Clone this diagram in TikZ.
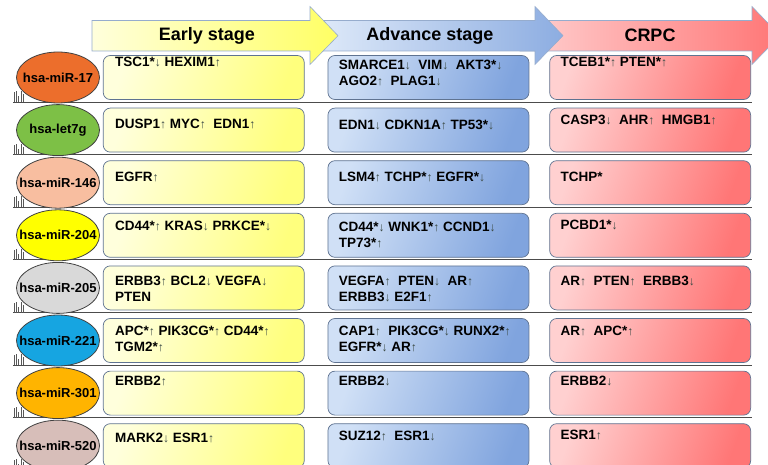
\documentclass[tikz,border=0pt]{standalone}
\usepackage{fontspec}
\setmainfont{Liberation Sans}
\usetikzlibrary{shapes.geometric,positioning}

\definecolor{yelLt}{RGB}{255,255,220}
\definecolor{yelDk}{RGB}{255,255,125}
\definecolor{bluLt}{RGB}{208,224,246}
\definecolor{bluDk}{RGB}{128,164,222}
\definecolor{redLt}{RGB}{255,208,208}
\definecolor{redDk}{RGB}{255,118,118}
\definecolor{boxLine}{RGB}{95,115,145}
\definecolor{arrLine}{RGB}{150,172,205}
\definecolor{arrcol}{RGB}{60,75,70}
\definecolor{mirOrange}{RGB}{236,110,44}
\definecolor{mirGreen}{RGB}{125,192,70}
\definecolor{mirPeach}{RGB}{248,190,160}
\definecolor{mirYellow}{RGB}{255,255,0}
\definecolor{mirGray}{RGB}{217,217,217}
\definecolor{mirBlue}{RGB}{22,165,225}
\definecolor{mirAmber}{RGB}{255,180,0}
\definecolor{mirRose}{RGB}{215,190,185}

\newcommand{\genup}{{\fontsize{12}{12}\selectfont\mdseries\textcolor{arrcol}{↑}}}
\newcommand{\gendn}{{\fontsize{12}{12}\selectfont\mdseries\textcolor{arrcol}{↓}}}
\newcommand{\mirname}[1]{\makebox[0pt]{#1}}

\tikzset{mir/.style={draw=black!75, line width=0.8pt, ellipse, minimum width=83pt, minimum height=51pt, inner sep=0pt, font=\fontsize{13}{13}\selectfont\bfseries}}
\tikzset{gbox/.style={draw=boxLine, line width=0.7pt, rounded corners=7pt, minimum width=201pt, minimum height=44pt, inner sep=0pt}}
\tikzstyle{ybox}=[gbox, top color=yelLt, bottom color=yelDk, shading angle=70]
\tikzstyle{bbox}=[gbox, top color=bluLt, bottom color=bluDk, shading angle=70]
\tikzstyle{rbox}=[gbox, top color=redLt, bottom color=redDk, shading angle=70]
\tikzstyle{gtxt}=[anchor=north west, inner sep=0pt, align=left, font=\fontsize{13.5}{16}\selectfont\bfseries]
\tikzstyle{hdr}=[inner sep=0pt, font=\fontsize{18}{18}\selectfont\bfseries]
\tikzstyle{sep}=[draw=black!70, line width=0.9pt]
\tikzstyle{tick}=[draw=black!65, line width=0.7pt]

\begin{document}
\begin{tikzpicture}[x=1pt, y=-1pt]
\clip (0,0) rectangle (768,465);
% stage arrows
\shade[left color=redLt, right color=redDk, draw=arrLine, line width=0.6pt]
  (520,20.5) -- (752,20.5) -- (752,6.5) -- (780,35.7) -- (752,64.5) -- (752,51) -- (520,51) -- cycle;
\shade[left color=bluLt!70!white, right color=bluDk!90!white, draw=arrLine, line width=0.6pt]
  (318,20.5) -- (535,20.5) -- (535,6.5) -- (563,35.7) -- (535,64.5) -- (535,51) -- (318,51) -- cycle;
\shade[left color=yelLt, right color=yelDk!80!yellow, draw=arrLine, line width=0.6pt]
  (92,20.5) -- (310,20.5) -- (310,6.5) -- (338,35.7) -- (310,64.5) -- (310,51) -- (92,51) -- cycle;
\node[hdr] (hEarly) at (207,35.7) {Early stage};
\node[hdr] (hAdv) at (430,35.7) {Advance stage};
\node[hdr] (hCrpc) at (650,35.7) {CRPC};

% row separators
\foreach \y in {102.1,154.7,207.3,259.9,312.5,365.1,417.7,470.3}{
  \draw[sep] (13,\y) -- (752,\y);
  \foreach \tx/\th in {14/10,16/11,18.5/6,21/11,23.5/8}
    \draw[tick] (\tx,\y) -- (\tx,\y-\th);
}

% row 1
\node[mir, fill=mirOrange] (m1) at (58,77.5) {\mirname{hsa-miR-17}};
\node[ybox, right=3pt of m1] (e1) {};
\node[bbox, right=23pt of e1] (a1) {};
\node[rbox, right=20pt of a1] (c1) {};
\node[gtxt] (e1t) at ([shift={(12,2)}]e1.north west) {TSC1*\gendn\ HEXIM1\genup};
\node[gtxt] (a1t) at ([shift={(11,5)}]a1.north west) {SMARCE1\gendn\ \ VIM\gendn\ \ AKT3*\gendn\\AGO2\genup\ \ PLAG1\gendn};
\node[gtxt] (c1t) at ([shift={(11,2)}]c1.north west) {TCEB1*\genup\ PTEN*\genup};

% row 2
\node[mir, fill=mirGreen] (m2) at (58,130.1) {\mirname{hsa-let7g}};
\node[ybox, right=3pt of m2] (e2) {};
\node[bbox, right=23pt of e2] (a2) {};
\node[rbox, right=20pt of a2] (c2) {};
\node[gtxt] (e2t) at ([shift={(12,11)}]e2.north west) {DUSP1\genup\ MYC\genup\ \ EDN1\genup};
\node[gtxt] (a2t) at ([shift={(11,12)}]a2.north west) {EDN1\gendn\ CDKN1A\genup\ TP53*\gendn};
\node[gtxt] (c2t) at ([shift={(11,7)}]c2.north west) {CASP3\gendn\ \ AHR\genup\ \ HMGB1\genup};

% row 3
\node[mir, fill=mirPeach] (m3) at (58,182.7) {\mirname{hsa-miR-146}};
\node[ybox, right=3pt of m3] (e3) {};
\node[bbox, right=23pt of e3] (a3) {};
\node[rbox, right=20pt of a3] (c3) {};
\node[gtxt] (e3t) at ([shift={(12,11.5)}]e3.north west) {EGFR\genup};
\node[gtxt] (a3t) at ([shift={(11,11.5)}]a3.north west) {LSM4\genup\ TCHP*\genup\ EGFR*\gendn};
\node[gtxt] (c3t) at ([shift={(11,11.5)}]c3.north west) {TCHP*};

% row 4
\node[mir, fill=mirYellow] (m4) at (58,235.3) {\mirname{hsa-miR-204}};
\node[ybox, right=3pt of m4] (e4) {};
\node[bbox, right=23pt of e4] (a4) {};
\node[rbox, right=20pt of a4] (c4) {};
\node[gtxt] (e4t) at ([shift={(12,8)}]e4.north west) {CD44*\genup\ KRAS\gendn\ PRKCE*\gendn};
\node[gtxt] (a4t) at ([shift={(11,9)}]a4.north west) {CD44*\gendn\ WNK1*\genup\ CCND1\gendn\\TP73*\genup};
\node[gtxt] (c4t) at ([shift={(11,7)}]c4.north west) {PCBD1*\gendn};

% row 5
\node[mir, fill=mirGray] (m5) at (58,287.9) {\mirname{hsa-miR-205}};
\node[ybox, right=3pt of m5] (e5) {};
\node[bbox, right=23pt of e5] (a5) {};
\node[rbox, right=20pt of a5] (c5) {};
\node[gtxt] (e5t) at ([shift={(12,10.5)}]e5.north west) {ERBB3\genup\ BCL2\gendn\ VEGFA\gendn\\PTEN};
\node[gtxt] (a5t) at ([shift={(11,10.5)}]a5.north west) {VEGFA\genup\ \ PTEN\gendn\ \ AR\genup\\ERBB3\gendn\ E2F1\genup};
\node[gtxt] (c5t) at ([shift={(11,10.5)}]c5.north west) {AR\genup\ \ PTEN\genup\ \ ERBB3\gendn};

% row 6
\node[mir, fill=mirBlue] (m6) at (58,340.5) {\mirname{hsa-miR-221}};
\node[ybox, right=3pt of m6] (e6) {};
\node[bbox, right=23pt of e6] (a6) {};
\node[rbox, right=20pt of a6] (c6) {};
\node[gtxt] (e6t) at ([shift={(12,8)}]e6.north west) {APC*\genup\ PIK3CG*\genup\ CD44*\genup\\TGM2*\genup};
\node[gtxt] (a6t) at ([shift={(11,8)}]a6.north west) {CAP1\genup\ \ PIK3CG*\gendn\ RUNX2*\genup\\EGFR*\gendn\ AR\genup};
\node[gtxt] (c6t) at ([shift={(11,8)}]c6.north west) {AR\genup\ \ APC*\genup};

% row 7
\node[mir, fill=mirAmber] (m7) at (58,393.1) {\mirname{hsa-miR-301}};
\node[ybox, right=3pt of m7] (e7) {};
\node[bbox, right=23pt of e7] (a7) {};
\node[rbox, right=20pt of a7] (c7) {};
\node[gtxt] (e7t) at ([shift={(12,5)}]e7.north west) {ERBB2\genup};
\node[gtxt] (a7t) at ([shift={(11,5)}]a7.north west) {ERBB2\gendn};
\node[gtxt] (c7t) at ([shift={(11,5)}]c7.north west) {ERBB2\gendn};

% row 8
\node[mir, fill=mirRose] (m8) at (58,445.7) {\mirname{hsa-miR-520}};
\node[ybox, right=3pt of m8] (e8) {};
\node[bbox, right=23pt of e8] (a8) {};
\node[rbox, right=20pt of a8] (c8) {};
\node[gtxt] (e8t) at ([shift={(12,10)}]e8.north west) {MARK2\gendn\ ESR1\genup};
\node[gtxt] (a8t) at ([shift={(11,8)}]a8.north west) {SUZ12\genup\ \ ESR1\gendn};
\node[gtxt] (c8t) at ([shift={(11,7)}]c8.north west) {ESR1\genup};
\end{tikzpicture}
\end{document}
